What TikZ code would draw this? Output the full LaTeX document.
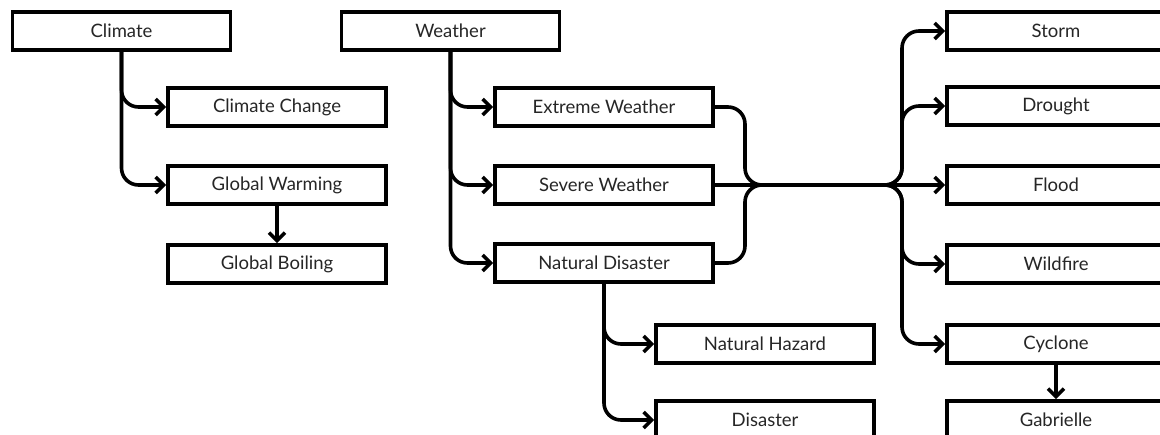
\documentclass[tikz,border=0pt]{standalone}
\usepackage{fontspec}
\setmainfont{Lato}
\usetikzlibrary{arrows.meta}
\definecolor{ink}{HTML}{000000}
\definecolor{label-text}{HTML}{262626}

\tikzset{
  termbox/.style={draw=ink, line width=3.8pt, fill=white, minimum width=218pt,
    minimum height=38pt, inner sep=0pt, text=label-text,
    font=\fontsize{18.5}{22}\selectfont},
  link/.style={draw=ink, line width=3.6pt, rounded corners=17pt,
    -{Straight Barb[length=8pt,width=16pt]}},
  joint/.style={draw=ink, line width=3.6pt, rounded corners=17pt},
}

\begin{document}
\begin{tikzpicture}[x=1pt, y=-1pt]
    % Diagram: word map from climate and weather terms to hazards.
    % Coordinates: (x, y) in px, y downwards
    %   left column x=121/277, middle x=450/604/765, right x=1056
    %   rows at y=31, 107, 185, 264, 344, 420
    %   merge at x=745, split at x=902 on the row y=185
    \useasboundingbox (0,0) rectangle (1160,434);

    \node[termbox] (climate)  at (121.5,31) {Climate};
    \node[termbox] (weather)  at (450.5,31) {Weather};
    \node[termbox] (cchange)  at (277,107)  {Climate Change};
    \node[termbox] (gwarming) at (277,185)  {Global Warming};
    \node[termbox] (gboiling) at (277,264)  {Global Boiling};

    \node[termbox] (extreme)  at (604,107)  {Extreme Weather};
    \node[termbox] (severe)   at (604,185)  {Severe Weather};
    \node[termbox] (natdis)   at (604,263)  {Natural Disaster};
    \node[termbox] (hazard)   at (765,344)  {Natural Hazard};
    \node[termbox] (disaster) at (765,420)  {Disaster};

    \node[termbox] (storm)    at (1056,31)  {Storm};
    \node[termbox] (drought)  at (1056,106) {Drought};
    \node[termbox] (flood)    at (1056,185) {Flood};
    \node[termbox] (wildfire) at (1056,264) {Wildfire};
    \node[termbox] (cyclone)  at (1056,344) {Cyclone};
    \node[termbox] (gabrielle) at (1056,420) {Gabrielle};

    \coordinate (merge) at (745,185);
    \coordinate (split) at (902,185);

    % left tree
    \draw[link] (climate.south) |- (cchange.west);
    \draw[link] (climate.south) |- (gwarming.west);
    \draw[link] (gwarming.south) -- (gboiling.north);

    % weather tree
    \draw[link] (weather.south) |- (extreme.west);
    \draw[link] (weather.south) |- (severe.west);
    \draw[link] (weather.south) |- (natdis.west);
    \draw[link] (natdis.south) |- (hazard.west);
    \draw[link] (natdis.south) |- (disaster.west);

    % merge and split
    \draw[joint] (extreme.east) -| (merge) -- (split);
    \draw[joint] (natdis.east) -| (merge) -- (split);
    \draw[link] (severe.east) -- (flood.west);
    \draw[link] (merge) -- (split) |- (storm.west);
    \draw[link] (merge) -- (split) |- (drought.west);
    \draw[link] (merge) -- (split) |- (wildfire.west);
    \draw[link] (merge) -- (split) |- (cyclone.west);
    \draw[link] (cyclone.south) -- (gabrielle.north);
  \end{tikzpicture}
\end{document}
